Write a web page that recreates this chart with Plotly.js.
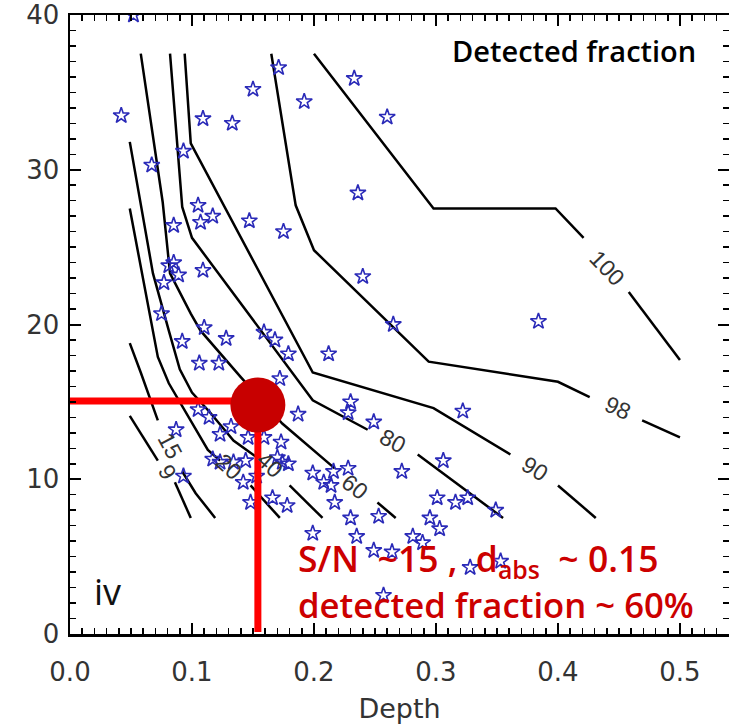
<!DOCTYPE html>
<html><head><meta charset="utf-8">
<script src="https://cdn.plot.ly/plotly-3.0.1.min.js"></script>
<style>html,body{margin:0;padding:0;background:#fff;}#chart{width:729px;height:726px;}</style>
</head><body><div id="chart"></div>
<script>
// ---- axis tick labels ----
const xTickVals = [0, 0.1, 0.2, 0.3, 0.4, 0.5];
const xTickText = ['0.0', '0.1', '0.2', '0.3', '0.4', '0.5'];
const yTickVals = [0, 10, 20, 30, 40];
const yTickText = ['0', '10', '20', '30', '40'];

// ---- contour lines of detected fraction (null = gap for the label) ----
const c9x  = [0.049, 0.072, null, 0.086, 0.099];
const c9y  = [14.1, 11.2, null, 9.8, 7.5];
const c15x = [0.049, 0.058, 0.072, null, 0.092, 0.103, 0.119];
const c15y = [18.8, 16.9, 13.8, null, 10.5, 9.1, 7.5];
const c20x = [0.049, 0.072, 0.081, 0.092, 0.113, 0.123, null, 0.148, 0.172];
const c20y = [27.5, 17.9, 16.2, 14.7, 11.9, 11.2, null, 9.6, 7.5];
const c40x = [0.049, 0.068, 0.081, 0.090, 0.100, 0.115, 0.134, 0.157, null, 0.180, 0.207];
const c40y = [31.8, 23.3, 19.6, 17.1, 15.6, 14.3, 12.5, 11.2, null, 9.6, 7.5];
const c60x = [0.058, 0.076, 0.082, 0.099, 0.107, 0.140, 0.174, 0.217, null, 0.252, 0.267];
const c60y = [37.5, 27.9, 23.3, 20.7, 19.6, 16.6, 13.6, 10.7, null, 8.5, 7.5];
const c80x = [0.082, 0.092, 0.100, 0.199, 0.244, null, 0.285, 0.355];
const c80y = [37.5, 27.6, 25.6, 15.1, 13.2, null, 11.6, 7.5];
const c90x = [0.094, 0.099, 0.199, 0.298, 0.361, null, 0.400, 0.431];
const c90y = [37.5, 31.7, 16.9, 14.6, 11.6, null, 9.6, 7.5];
const c98x = [0.165, 0.185, 0.200, 0.294, 0.400, 0.426, null, 0.469, 0.500];
const c98y = [37.5, 27.7, 24.8, 17.6, 16.3, 15.3, null, 13.8, 12.7];
const c100x = [0.200, 0.298, 0.398, 0.421, null, 0.458, 0.500];
const c100y = [37.5, 27.5, 27.5, 25.6, null, 22.1, 17.7];

// ---- contour labels ----
const labelText  = ['9', '15', '20', '40', '60', '80', '90', '98', '100'];
const labelX     = [0.0797, 0.0821, 0.1305, 0.1641, 0.2338, 0.2649, 0.3813, 0.4493, 0.4403];
const labelY     = [10.47, 12.15, 10.79, 10.92, 9.50, 12.47, 10.66, 14.60, 23.65];
const labelAngle = [60, 62, 42, 42, 38, 28, 32, 24, 46];

// ---- observed systems (stars) ----
const starDepth = [0.052,0.042,0.067,0.093,0.109,0.133,0.150,0.171,0.192,0.233,0.260,0.236,0.240,0.265,0.384,0.105,0.117,0.107,0.085,0.147,0.175,0.081,0.085,0.089,0.077,0.109,0.075,0.110,0.092,0.128,0.159,0.168,0.179,0.212,0.106,0.122,0.172,0.187,0.230,0.228,0.087,0.105,0.114,0.132,0.123,0.146,0.173,0.117,0.123,0.134,0.144,0.170,0.174,0.179,0.093,0.142,0.153,0.166,0.148,0.178,0.199,0.208,0.214,0.216,0.228,0.217,0.230,0.253,0.199,0.235,0.249,0.272,0.306,0.322,0.301,0.316,0.326,0.349,0.295,0.303,0.281,0.289,0.249,0.264,0.328,0.353,0.257,0.159];
const starSN = [40.0,33.5,30.3,31.2,33.3,33.0,35.2,36.6,34.4,35.9,33.4,28.5,23.1,20.0,20.2,27.7,27.0,26.6,26.4,26.7,26.0,23.8,24.0,23.2,22.7,23.5,20.7,19.8,18.9,19.1,19.5,19.0,18.1,18.1,17.5,17.5,16.5,14.2,15.0,14.3,13.2,14.5,14.0,13.4,12.9,12.7,12.4,11.3,11.1,11.1,11.2,11.4,11.1,11.0,10.2,9.8,10.2,8.8,8.5,8.3,10.4,9.8,9.6,10.5,10.7,8.5,7.5,7.6,6.5,6.3,13.7,10.5,11.2,14.4,8.8,8.5,8.8,8.0,7.5,6.8,6.3,5.9,5.4,5.3,4.3,4.7,2.5,12.7];

// ---- highlighted example ----
const exDepth = [0.154];
const exSN = [14.8];
const hLineX = [-0.004, 0.154];
const hLineY = [15.06, 15.06];
const vLineX = [0.154, 0.154];
const vLineY = [14.8, 0.13];

const contourStyle = {mode: 'lines', line: {color: '#000', width: 2.5}, connectgaps: false, hoverinfo: 'skip'};
const contours = [[c9x,c9y],[c15x,c15y],[c20x,c20y],[c40x,c40y],[c60x,c60y],[c80x,c80y],[c90x,c90y],[c98x,c98y],[c100x,c100y]];
const traces = contours.map(c => Object.assign({type: 'scatter', x: c[0], y: c[1]}, contourStyle));

traces.push({type: 'scatter', mode: 'markers', x: starDepth, y: starSN,
  marker: {symbol: 'star-open', size: 12, color: '#2a2ab8', line: {width: 1.6, color: '#2a2ab8'}}});
traces.push({type: 'scatter', mode: 'lines', x: hLineX, y: hLineY, cliponaxis: false,
  line: {color: '#ff0000', width: 7}});
traces.push({type: 'scatter', mode: 'lines', x: vLineX, y: vLineY, cliponaxis: false,
  line: {color: '#ff0000', width: 7}});
traces.push({type: 'scatter', mode: 'markers', x: exDepth, y: exSN, cliponaxis: false,
  marker: {size: 55, color: '#c80000'}});

const annotations = labelText.map((t, i) => ({
  x: labelX[i], y: labelY[i], xref: 'x', yref: 'y', text: t, showarrow: false,
  textangle: labelAngle[i], font: {family: 'Liberation Sans', size: 23, color: '#333'}
}));
annotations.push({xref: 'paper', yref: 'paper', x: (450 - 70) / 659, y: (634 - 51) / 619, xanchor: 'left', yanchor: 'middle',
  text: 'Detected fraction', showarrow: false, font: {family: 'Open Sans', size: 29, weight: 600, color: '#000'}});
annotations.push({xref: 'paper', yref: 'paper', x: 0.033, y: 0.068, xanchor: 'left', yanchor: 'middle',
  text: 'iv', showarrow: false, font: {family: 'Open Sans', size: 36, color: '#111'}});
annotations.push({xref: 'paper', yref: 'paper', x: 0.343, y: (634 - 560) / 619, xanchor: 'left', yanchor: 'middle',
  text: 'S/N\u00a0 ~15 ,\u00a0 d<sub>abs</sub>\u00a0\u00a0~ 0.15', showarrow: false, font: {family: 'Open Sans', size: 35.5, weight: 600, color: '#cc0000'}});
annotations.push({xref: 'paper', yref: 'paper', x: 0.343, y: (634 - 604) / 619, xanchor: 'left', yanchor: 'middle',
  text: 'detected fraction ~ 60%', showarrow: false, font: {family: 'Open Sans', size: 34.7, weight: 600, color: '#cc0000'}});

const axisFont = {family: 'DejaVu Sans', size: 26, color: '#333'};
const layout = {
  width: 729, height: 726,
  margin: {l: 70, r: 0, t: 15, b: 92},
  paper_bgcolor: '#fff', plot_bgcolor: '#fff',
  showlegend: false,
  xaxis: {
    range: [0, 0.5402], tickmode: 'array', tickvals: xTickVals, ticktext: xTickText,
    ticks: 'inside', ticklen: 11, tickwidth: 2, tickcolor: '#000',
    showline: true, linecolor: '#000', linewidth: 2.5, mirror: 'allticks',
    showgrid: false, zeroline: false, tickfont: axisFont, ticklabelstandoff: 13,
    minor: {tickmode: 'linear', tick0: 0, dtick: 0.01, ticks: 'inside', ticklen: 6, tickwidth: 1.5, tickcolor: '#000'},
    title: {text: 'Depth', font: {family: 'DejaVu Sans', size: 27, color: '#333'}, standoff: 14}
  },
  yaxis: {
    range: [0, 40], tickmode: 'array', tickvals: yTickVals, ticktext: yTickText,
    ticks: 'inside', ticklen: 11, tickwidth: 2, tickcolor: '#000',
    showline: true, linecolor: '#000', linewidth: 2.5, mirror: 'allticks',
    showgrid: false, zeroline: false, tickfont: axisFont, ticklabelstandoff: 3,
    minor: {tickmode: 'linear', tick0: 0, dtick: 1, ticks: 'inside', ticklen: 6, tickwidth: 1.5, tickcolor: '#000'}
  },
  annotations: annotations
};
Plotly.newPlot('chart', traces, layout, {staticPlot: true, displayModeBar: false});
</script>
</body></html>
